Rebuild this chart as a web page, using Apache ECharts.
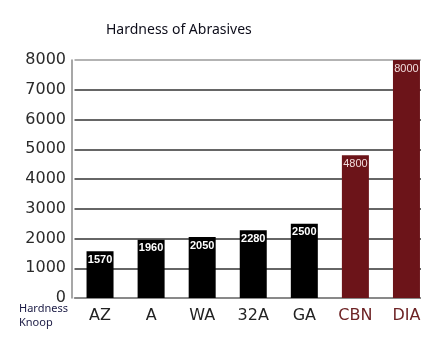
<!DOCTYPE html>
<html>
<head>
<meta charset="utf-8">
<script src="https://cdn.jsdelivr.net/npm/echarts@6/dist/echarts.min.js"></script>
<style>
  html, body { margin: 0; padding: 0; background: #fff; }
  #wrap { width: 421px; height: 356px; overflow: hidden; }
  #chart { width: 447px; height: 356px; }
</style>
</head>
<body>
<div id="wrap"><div id="chart"></div></div>
<script>
const categories = ['AZ', 'A', 'WA', '32A', 'GA', 'CBN', 'DIA'];
const hardness = [1570, 1960, 2050, 2280, 2500, 4800, 8000];
const superabrasives = ['CBN', 'DIA'];
const yMin = 0, yMax = 8000, yStep = 1000;

const BLACK = '#000000';
const MAROON = '#6c1419';

const chart = echarts.init(document.getElementById('chart'), null, { renderer: 'canvas' });

const barData = categories.map((c, i) => {
  const isSuper = superabrasives.includes(c);
  return {
    value: hardness[i],
    itemStyle: { color: isSuper ? MAROON : BLACK },
    label: isSuper
      ? { color: '#f2dcdc', fontWeight: 'normal' }
      : { color: '#ffffff', fontWeight: 'bold' }
  };
});

const splitColors = [];
for (let v = yMin; v <= yMax; v += yStep) {
  splitColors.push(v === yMax ? '#9a9a9a' : (v === yMin ? '#888888' : '#333333'));
}

chart.setOption({
  backgroundColor: '#ffffff',
  animation: false,
  title: {
    text: 'Hardness of Abrasives',
    left: 101,
    top: 18,
    textStyle: { fontFamily: 'Noto Sans', fontSize: 14, fontWeight: 'normal', color: '#0d0d1a' }
  },
  graphic: [{
    type: 'text',
    left: 19,
    top: 302,
    style: {
      text: 'Hardness\nKnoop',
      font: '11px "Noto Sans"',
      lineHeight: 14,
      fill: '#1a1a44'
    }
  }],
  grid: { left: 74.5, right: 15, top: 60, bottom: 58, containLabel: false },
  xAxis: {
    type: 'category',
    data: categories,
    boundaryGap: true,
    axisLine: { show: true, lineStyle: { color: '#808080', width: 1.5 } },
    axisTick: { show: false },
    axisLabel: {
      margin: 10,
      fontFamily: 'DejaVu Sans',
      fontSize: 16,
      color: (val) => superabrasives.includes(val) ? '#6e2426' : '#222222'
    }
  },
  yAxis: {
    type: 'value',
    min: yMin,
    max: yMax,
    interval: yStep,
    offset: 2.5,
    axisLine: { show: true, lineStyle: { color: '#8a8a8a', width: 1.5 } },
    axisTick: { show: false },
    axisLabel: {
      margin: 6,
      fontFamily: 'DejaVu Sans',
      fontSize: 16,
      color: '#2a2a2a',
      formatter: (v) => String(v)
    },
    splitLine: { show: true, lineStyle: { color: splitColors, width: 1.6 } }
  },
  series: [{
    type: 'bar',
    data: barData,
    barWidth: 27,
    label: {
      show: true,
      position: 'insideTop',
      distance: 3,
      fontFamily: 'Liberation Sans',
      fontSize: 11
    }
  }]
});
</script>
</body>
</html>
